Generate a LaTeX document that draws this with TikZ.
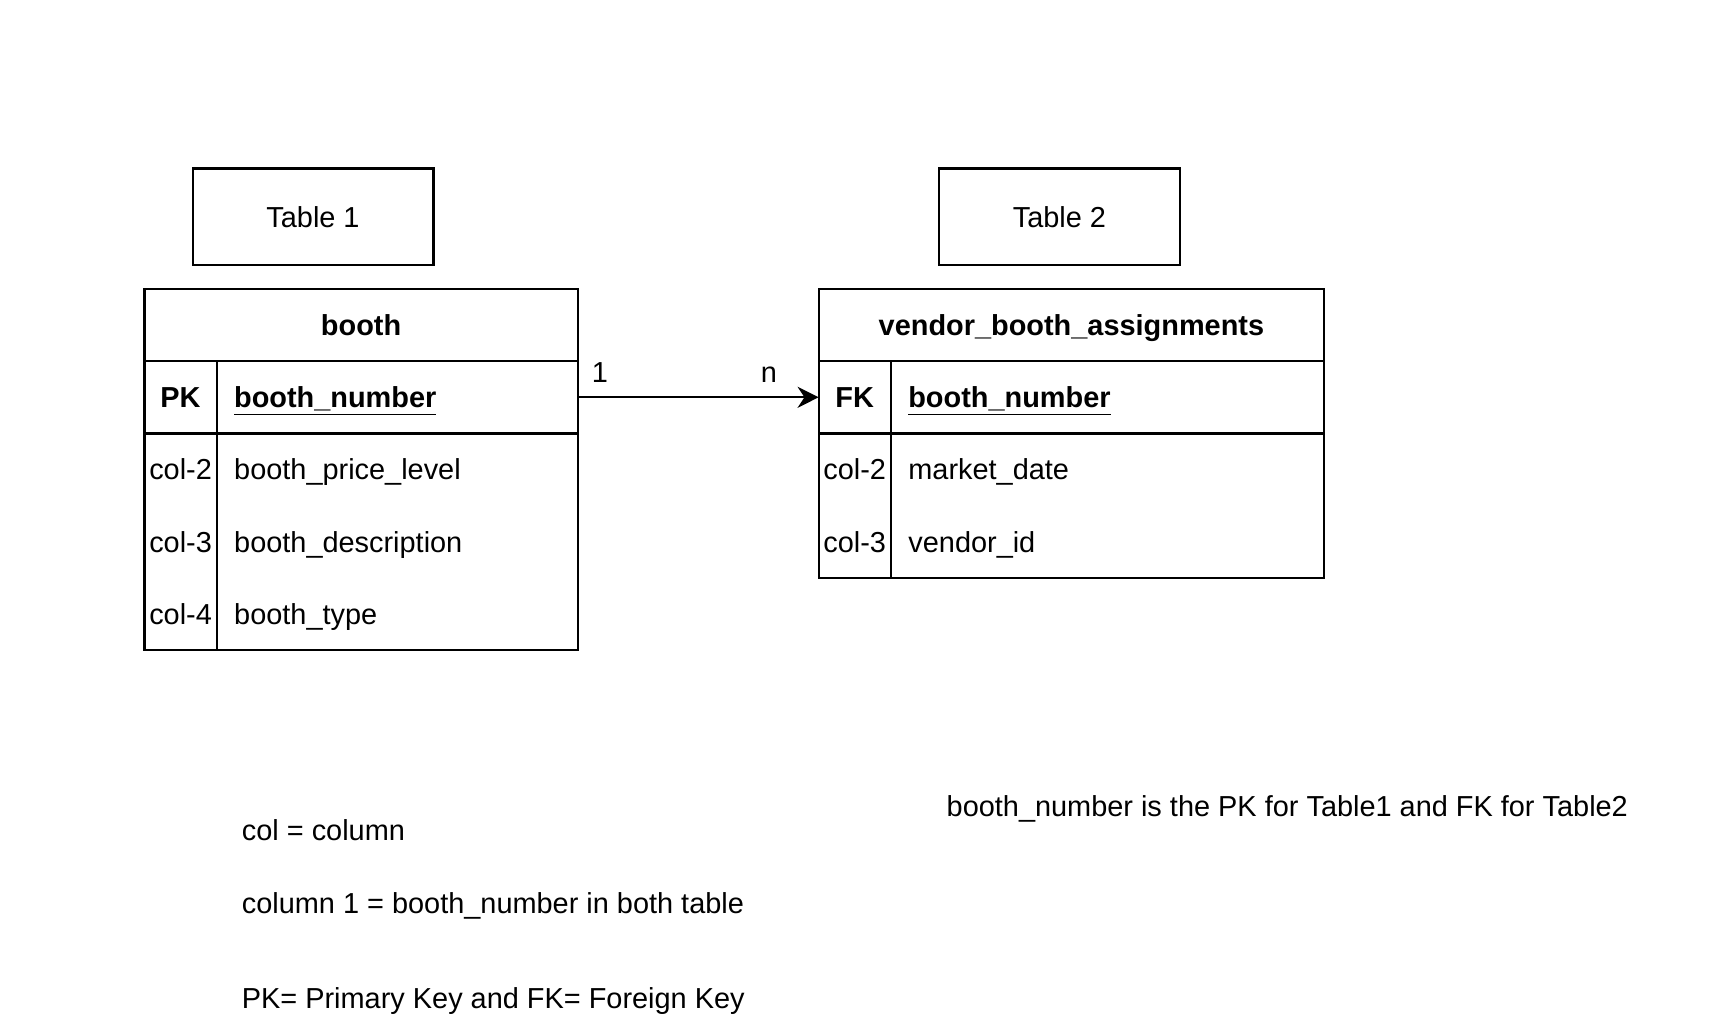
\documentclass[tikz,border=0pt]{standalone}
\usepackage{fontspec}
\setmainfont{Liberation Sans}
\usetikzlibrary{positioning,arrows.meta}
\newcommand{\diafont}{\fontsize{14.45pt}{17pt}\selectfont}
\tikzset{
cell/.style={
	draw, line width=1.1pt, inner sep=0pt, outer sep=0pt,
	text height=10.35pt, text depth=0pt},
tablebox/.style={cell, minimum width=120.4pt, minimum height=48.2pt},
head/.style={cell, font=\diafont\bfseries, minimum height=36.1pt},
keycell/.style={cell, font=\diafont\bfseries, minimum width=36.1pt, minimum height=36.1pt},
namecell/.style={cell, font=\diafont\bfseries, minimum height=36.1pt, inner xsep=8.75pt, align=left},
plain/.style={inner sep=0pt, outer sep=0pt, text height=10.35pt, text depth=0pt}
}

\begin{document}
\begin{tikzpicture}[x=0.5pt, y=-0.5pt, font=\diafont]
	\useasboundingbox (0,0) rectangle (1716,1032);
	% table captions
	\node[tablebox] (capA) at (313,216.7) {Table 1};
	\node[tablebox] (capB) at (1059.4,216.7) {Table 2};

	% booth
	\node[head, minimum width=216.7pt] (bHead) at (361.1,325.1) {booth};
	\node[keycell, anchor=north west] (bPK) at (bHead.south west) {PK};
	\node[namecell, text width=163.1pt, right=0pt of bPK] (bPKn) {\underline{booth\_number}};
	\node[cell, minimum width=36.1pt, minimum height=108.35pt, below=0pt of bPK] (bKeys) {};
	\node[cell, minimum width=180.6pt, minimum height=108.35pt, right=0pt of bKeys] (bNames) {};
	\node[plain] (bC2) at (180.6,469.5) {col-2};
	\node[plain] (bC3) at (180.6,541.7) {col-3};
	\node[plain] (bC4) at (180.6,614) {col-4};
	\node[plain, anchor=west] (bN2) at (234.2,469.5) {booth\_price\_level};
	\node[plain, anchor=west] (bN3) at (234.2,541.7) {booth\_description};
	\node[plain, anchor=west] (bN4) at (234.2,614) {booth\_type};

	% vendor_booth_assignments
	\node[head, minimum width=252.8pt] (vHead) at (1071.4,325.1) {vendor\_booth\_assignments};
	\node[keycell, anchor=north west] (vFK) at (vHead.south west) {FK};
	\node[namecell, text width=199.2pt, right=0pt of vFK] (vFKn) {\underline{booth\_number}};
	\node[cell, minimum width=36.1pt, minimum height=72.2pt, below=0pt of vFK] (vKeys) {};
	\node[cell, minimum width=216.7pt, minimum height=72.2pt, right=0pt of vKeys] (vNames) {};
	\node[plain] (vC2) at (854.7,469.5) {col-2};
	\node[plain] (vC3) at (854.7,541.7) {col-3};
	\node[plain, anchor=west] (vN2) at (908.4,469.5) {market\_date};
	\node[plain, anchor=west] (vN3) at (908.4,541.7) {vendor\_id};

	% relation
	\draw[-{Stealth[length=10.5pt,width=10.5pt]}, line width=1.1pt] (bPKn.east) --
		node[plain, pos=0.092, above=7.2pt] (one) {1}
		node[plain, pos=0.794, above=7.2pt] (many) {n} (vFK.west);

	% notes
	\node[plain, anchor=west] (noteKey) at (946.7,806.6) {booth\_number is the PK for Table1 and FK for Table2};
	\node[plain, anchor=west] (noteCol) at (241.9,830.6) {col = column};
	\node[plain, anchor=west] (noteOne) at (241.9,902.9) {column 1 = booth\_number in both table};
	\node[plain, anchor=west] (notePK) at (241.9,998.1) {PK= Primary Key and FK= Foreign Key};
\end{tikzpicture}
\end{document}
